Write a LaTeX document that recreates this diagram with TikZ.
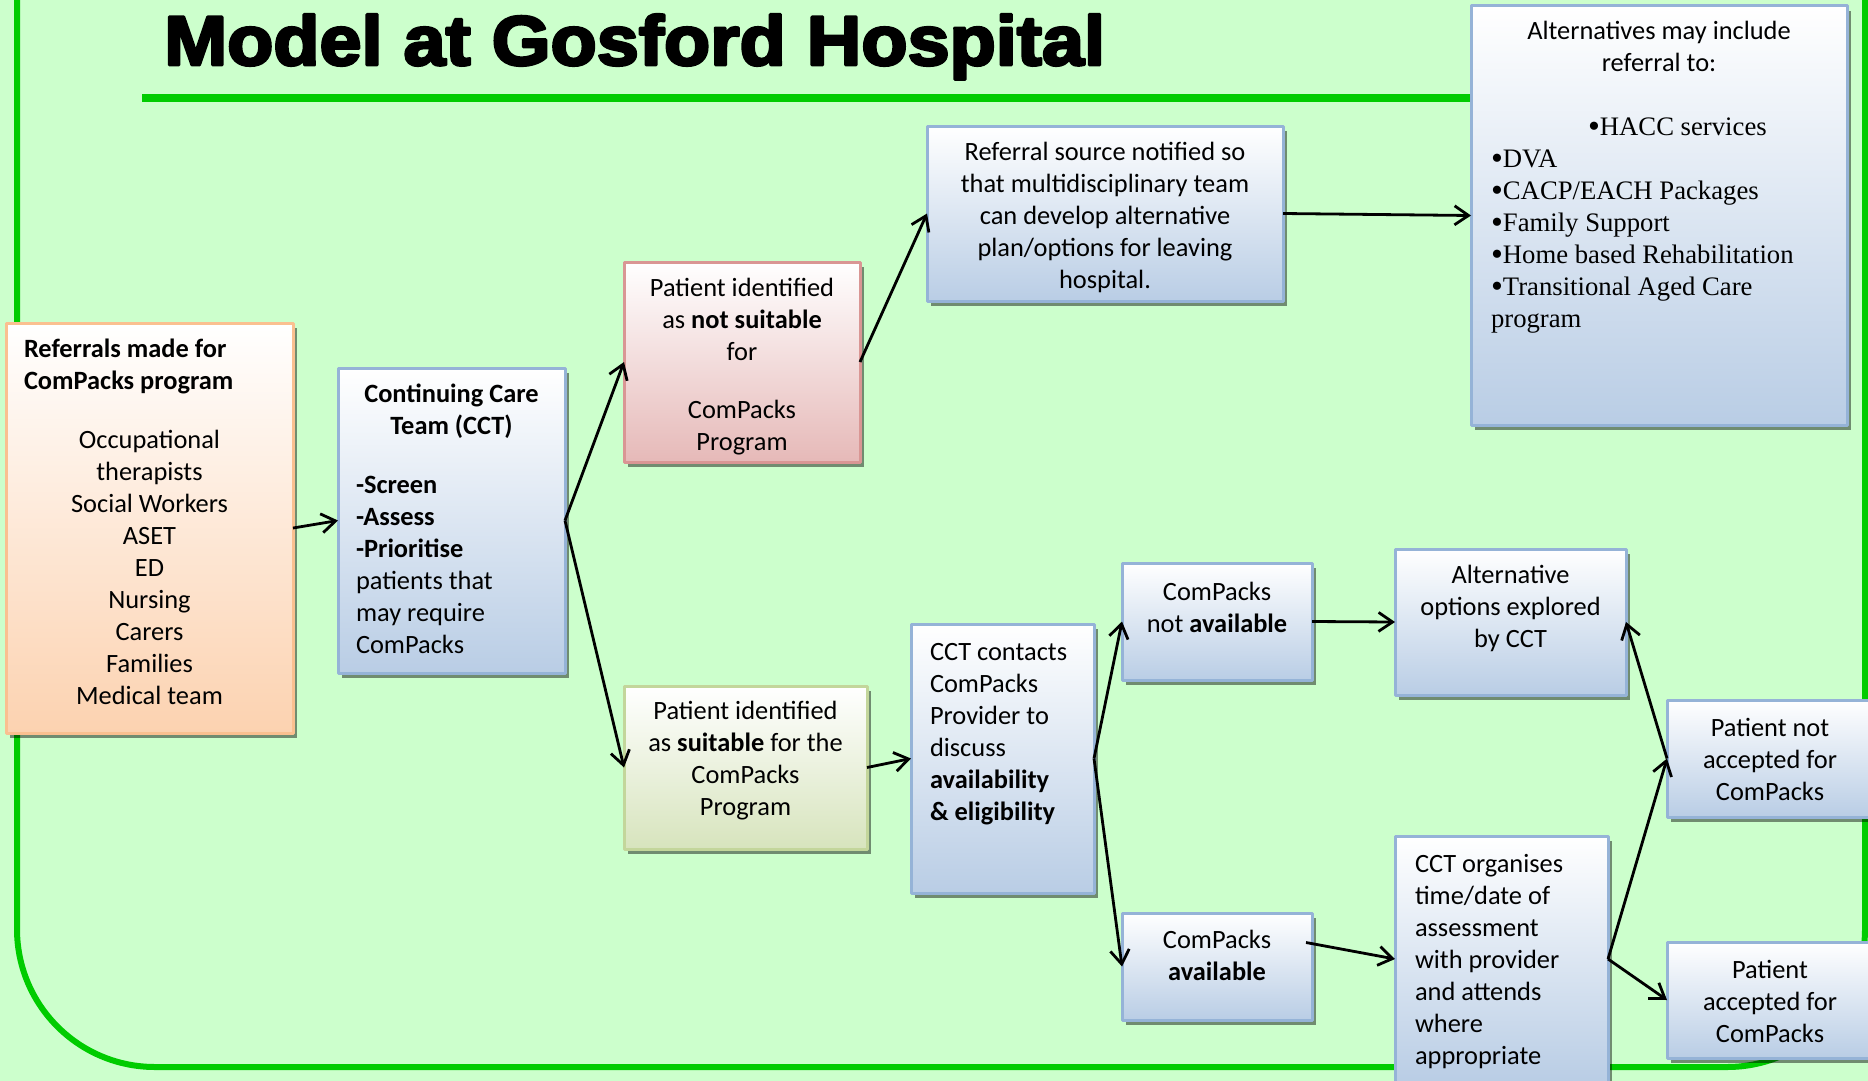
\documentclass[tikz,border=0pt]{standalone}
\usepackage{fontspec}
\setmainfont{Carlito}
\newfontfamily\tms{Liberation Serif}
\newfontfamily\ttl[BoldFeatures={FakeBold=4,FakeStretch=1.08}]{Liberation Sans}
\usetikzlibrary{arrows.meta,shadows,calc}
\definecolor{bgc}{HTML}{CCFFCC}
\definecolor{framec}{HTML}{00CC00}
\definecolor{bluef}{HTML}{B9CDE5}
\definecolor{blueb}{HTML}{95B3D7}
\definecolor{oranf}{HTML}{FCD2B0}
\definecolor{oranb}{HTML}{FAC090}
\definecolor{redf}{HTML}{E6B9B8}
\definecolor{redb}{HTML}{D99694}
\definecolor{grnf}{HTML}{D7E4BD}
\definecolor{grnb}{HTML}{C3D69B}
\setlength{\parskip}{0pt}
\newcommand{\bxt}[4]{\parbox[c][#2pt][t]{#1pt}{\fontsize{26.4}{32}\selectfont\vspace*{#3pt}#4}}
\newcommand{\lft}[1]{\raggedright\leftskip=#1pt\relax}
\newcommand{\bul}{\raisebox{-2pt}{\fontsize{34}{32}\selectfont•}}
\tikzset{
  bxbase/.style={line width=3pt, inner sep=0pt, outer sep=0pt, anchor=north west,
    top color=white,
    drop shadow={shadow xshift=4pt, shadow yshift=-5pt, opacity=0.45, fill=black}},
  bluebx/.style={bxbase, draw=blueb, bottom color=bluef},
  orbx/.style={bxbase, draw=oranb, bottom color=oranf},
  redbx/.style={bxbase, draw=redb, bottom color=redf},
  grnbx/.style={bxbase, draw=grnb, bottom color=grnf},
  arr/.style={line width=2.8pt, -{Straight Barb[length=14pt,width=19pt]}},
  framel/.style={line width=6pt, draw=framec, rounded corners=138pt},
}
\begin{document}
\begin{tikzpicture}[x=1pt, y=-1pt, line join=round]
\useasboundingbox (0,0) rectangle (1868,1081);
\clip (0,0) rectangle (1868,1081);
\fill[bgc] (0,0) rectangle (1868,1081);
% frame
\draw[framel] (17,-40) -- (17,1067) -- (1865,1067) -- (1865,-40);
% title
\draw[line width=8pt, framec] (142,98) -- (1480,98);
\node[anchor=base west, inner sep=0pt] (title) at (164,65) {\ttl\bfseries\fontsize{70}{76}\selectfont Model at Gosford Hospital};
% boxes
\node[orbx] (ref) at (6,323) {\bxt{287}{410}{12}{{\lft{18}\strut\textbf{Referrals made for}\\\textbf{ComPacks program}\par}\vspace{27pt}{\centering Occupational\\therapists\\Social Workers\\ASET\\ED\\Nursing\\Carers\\Families\\Medical team\par}}};
\node[bluebx] (cct) at (338,368) {\bxt{227}{305}{11.6}{{\centering\strut\textbf{Continuing Care}\\\textbf{Team (CCT)}\par}\vspace{27pt}{\lft{18}\textbf{-Screen}\\\textbf{-Assess}\\\textbf{-Prioritise}\\patients that\\may require\\ComPacks\par}}};
\node[redbx] (ns) at (624,262) {\bxt{236}{200}{11.6}{{\centering\strut Patient identified\\as \textbf{not suitable}\\for\\[26pt]ComPacks\\Program\par}}};
\node[bluebx] (rs) at (927,126) {\bxt{356}{175}{11.6}{{\centering\strut Referral source notified so\\that multidisciplinary team\\can develop alternative\\plan/options for leaving\\hospital.\par}}};
\node[bluebx] (alt) at (1471,6) {\bxt{376}{419}{10.6}{{\centering\strut Alternatives may include\\referral to:\par}\vspace{32pt}{\tms\fontsize{26.7}{32}\selectfont\lft{20}\hspace*{97pt}\bul HACC services\\\bul DVA\\\bul CACP/EACH Packages\\\bul Family Support\\\bul Home based Rehabilitation\\\bul Transitional Aged Care\\program\par}}};
\node[grnbx] (suit) at (624,686) {\bxt{243}{163}{10.6}{{\centering\strut Patient identified\\as \textbf{suitable} for the\\ComPacks\\Program\par}}};
\node[bluebx] (cc) at (911,624) {\bxt{183}{269}{13.6}{{\lft{19}\strut CCT contacts\\ComPacks\\Provider to\\discuss\\\textbf{availability}\\\textbf{\& eligibility}\par}}};
\node[bluebx] (na) at (1122,563) {\bxt{190}{117}{14.6}{{\centering\strut ComPacks\\not \textbf{available}\par}}};
\node[bluebx] (av) at (1122,913) {\bxt{190}{107}{12.6}{{\centering\strut ComPacks\\\textbf{available}\par}}};
\node[bluebx] (ao) at (1395,549) {\bxt{231}{146}{11.6}{{\centering\strut Alternative\\options explored\\by CCT\par}}};
\node[bluebx] (org) at (1395,836) {\bxt{213}{246}{13.6}{{\lft{20}\strut CCT organises\\time/date of\\assessment\\with provider\\and attends\\where\\appropriate\par}}};
\node[bluebx] (nacc) at (1667,700) {\bxt{206}{117}{13.6}{{\centering\strut Patient not\\accepted for\\ComPacks\par}}};
\node[bluebx] (acc) at (1667,942) {\bxt{206}{116}{13.6}{{\centering\strut Patient\\accepted for\\ComPacks\par}}};
% connectors
\draw[arr] (ref.east) -- (cct.west);
\draw[arr] (cct.east) -- (ns.west);
\draw[arr] (cct.east) -- (suit.west);
\draw[arr] (ns.east) -- (rs.west);
\draw[arr] (rs.east) -- (alt.west);
\draw[arr] (suit.east) -- (cc.west);
\draw[arr] (cc.east) -- (na.west);
\draw[arr] (cc.east) -- (av.west);
\draw[arr] (na.east) -- (ao.west);
\draw[arr] ($(av.east)+(-6,-24)$) -- (org.west);
\draw[arr] (org.east) -- (nacc.west);
\draw[arr] (org.east) -- (acc.west);
\draw[arr] (nacc.west) -- (ao.east);
\end{tikzpicture}
\end{document}
